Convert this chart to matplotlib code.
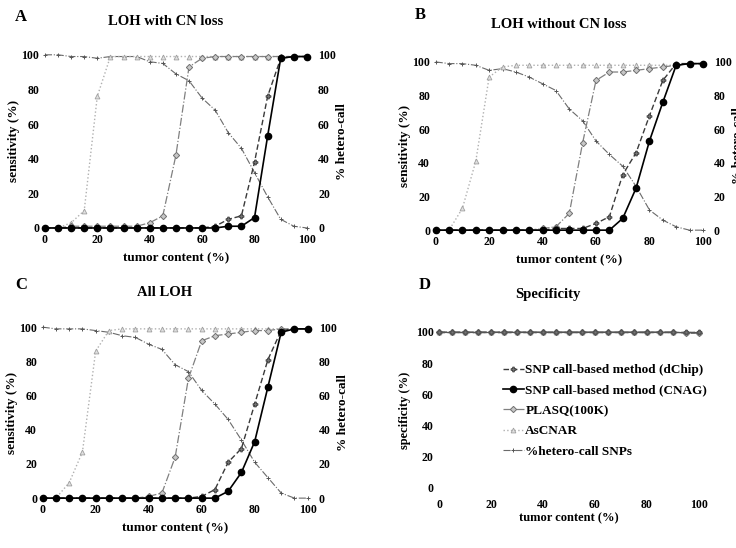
import matplotlib.pyplot as plt
from matplotlib.lines import Line2D
import numpy as np

plt.rcParams['font.family'] = ['Liberation Serif', 'DejaVu Serif']
plt.rcParams['font.weight'] = 'bold'

# tumor content (%) - same grid for every series
tumor = list(range(0, 101, 5))

# Panel A : LOH with CN loss
a_dchip = [0, 0, 0, 0, 0, 0, 0, 0, 0, 0, 0, 0, 0, 1, 5, 7, 38, 76, 98, 99, 99]
a_cnag = [0, 0, 0, 0, 0, 0, 0, 0, 0, 0, 0, 0, 0, 0, 1, 1, 6, 53, 98, 99, 99]
a_plasq = [0, 0, 1, 1, 1, 1, 1, 1, 3, 7, 42, 93, 98, 99, 99, 99, 99, 99, 99, 99, 99]
a_ascnar = [0, 0, 3, 10, 76, 99, 99, 99, 99, 99, 99, 99, 99, 99, 99, 99, 99, 99, 99, 99, 99]
a_hetero = [100, 100, 99, 99, 98, 99, 99, 99, 96, 95, 89, 85, 75, 68, 55, 46, 32, 18, 5, 1, 0]

# Panel B : LOH without CN loss
b_dchip = [0, 0, 0, 0, 0, 0, 0, 0, 0, 1, 1, 1, 4, 8, 33, 46, 68, 89, 99, 99, 99]
b_cnag = [0, 0, 0, 0, 0, 0, 0, 0, 0, 0, 0, 0, 0, 0, 7, 25, 53, 76, 98, 99, 99]
b_plasq = [0, 0, 0, 0, 0, 0, 0, 0, 1, 2, 10, 52, 89, 94, 94, 95, 96, 97, 98, 99, 99]
b_ascnar = [0, 0, 13, 41, 91, 97, 98, 98, 98, 98, 98, 98, 98, 98, 98, 98, 98, 98, 98, 99, 99]
b_hetero = [100, 99, 99, 98, 95, 96, 94, 91, 87, 83, 72, 65, 53, 45, 38, 26, 12, 6, 2, 0, 0]

# Panel C : All LOH
c_dchip = [0, 0, 0, 0, 0, 0, 0, 0, 0, 0, 0, 0, 1, 5, 21, 29, 55, 81, 98, 99, 99]
c_cnag = [0, 0, 0, 0, 0, 0, 0, 0, 0, 0, 0, 0, 0, 0, 4, 15, 33, 65, 97, 99, 99]
c_plasq = [0, 0, 0, 0, 0, 0, 0, 0, 1, 3, 24, 70, 92, 95, 96, 97, 98, 98, 99, 99, 99]
c_ascnar = [0, 0, 9, 27, 86, 98, 99, 99, 99, 99, 99, 99, 99, 99, 99, 99, 99, 99, 99, 99, 99]
c_hetero = [100, 99, 99, 99, 98, 97, 95, 94, 90, 87, 78, 74, 63, 55, 46, 34, 21, 12, 3, 0, 0]

# Panel D : specificity
d_dchip = [100] * 21
d_cnag = [100] * 21
d_plasq = [100, 100, 100, 100, 100, 100, 100, 100, 100, 100, 100, 100, 100, 100, 100, 100, 100, 100, 100, 99, 99]
d_ascnar = [100] * 21

labels = ['SNP call-based method (dChip)', 'SNP call-based method (CNAG)',
          'PLASQ(100K)', 'AsCNAR', '%hetero-call SNPs']

# style of each series
styles = {
    'dchip': dict(color='#3a3a3a', ls=(0, (4, 2)), lw=1.0, marker='P', ms=3.5, mfc='#777777', mec='#3a3a3a', mew=0.6),
    'cnag': dict(color='black', ls='-', lw=1.2, marker='o', ms=4.5, mfc='black', mec='black'),
    'plasq': dict(color='#808080', ls='-.', lw=0.9, marker='D', ms=3.2, mfc='#c8c8c8', mec='#707070', mew=0.7),
    'ascnar': dict(color='#b0b0b0', ls=':', lw=1.0, marker='^', ms=3.5, mfc='#e0e0e0', mec='#a0a0a0', mew=0.6),
    'hetero': dict(color='#6a6a6a', ls='-.', lw=0.8, marker='+', ms=3.5, mec='#555555', mew=0.7),
}

fig = plt.figure(figsize=(7.36, 5.48), dpi=100)


def style_axis(ax):
    for s in ax.spines.values():
        s.set_visible(False)
    ax.tick_params(length=0, labelsize=8.5, pad=4)
    for lab in ax.get_xticklabels() + ax.get_yticklabels():
        lab.set_fontweight('bold')


def sensitivity_panel(rect, letter, letter_xy, title, title_y, dchip, cnag, plasq, ascnar, hetero):
    ax = fig.add_axes(rect)
    ax2 = ax.twinx()
    ax2.plot(tumor, hetero, clip_on=False, **styles['hetero'])
    ax.plot(tumor, ascnar, clip_on=False, zorder=3, **styles['ascnar'])
    ax.plot(tumor, plasq, clip_on=False, zorder=4, **styles['plasq'])
    ax.plot(tumor, dchip, clip_on=False, zorder=5, **styles['dchip'])
    ax.plot(tumor, cnag, clip_on=False, zorder=6, **styles['cnag'])
    ax.set_zorder(ax2.get_zorder() + 1)
    ax.patch.set_visible(False)
    for a in (ax, ax2):
        a.set_xlim(0, 100)
        a.set_ylim(0, 100)
        a.set_yticks(range(0, 101, 20))
        style_axis(a)
    ax.set_xticks(range(0, 101, 20))
    ax2.tick_params(pad=8)
    ax.set_xlabel('tumor content (%)', fontsize=9.5, fontweight='bold', labelpad=5)
    ax.set_ylabel('sensitivity (%)', fontsize=9.5, fontweight='bold', labelpad=1)
    ax2.set_ylabel('% hetero-call', fontsize=9.5, fontweight='bold', labelpad=0)
    ax.text(0.46, title_y, title, transform=ax.transAxes, ha='center', va='center',
            fontsize=10.5, fontweight='bold')
    ax.text(letter_xy[0], letter_xy[1], letter, transform=ax.transAxes, ha='center', va='center',
            fontsize=12, fontweight='bold')
    return ax


sensitivity_panel([0.061, 0.584, 0.356, 0.316], 'A', (-0.092, 1.22), 'LOH with CN loss', 1.19,
                  a_dchip, a_cnag, a_plasq, a_ascnar, a_hetero)
sensitivity_panel([0.592, 0.580, 0.363, 0.307], 'B', (-0.056, 1.28), 'LOH without CN loss', 1.22,
                  b_dchip, b_cnag, b_plasq, b_ascnar, b_hetero)
sensitivity_panel([0.058, 0.091, 0.360, 0.312], 'C', (-0.083, 1.245), 'All LOH', 1.20,
                  c_dchip, c_cnag, c_plasq, c_ascnar, c_hetero)

# Panel D
axd = fig.add_axes([0.5965, 0.1095, 0.353, 0.285])
axd.plot(tumor, d_ascnar, clip_on=False, **styles['ascnar'])
axd.plot(tumor, d_plasq, clip_on=False, **styles['plasq'])
axd.plot(tumor, d_dchip, clip_on=False, **styles['dchip'])
axd.plot(tumor, d_cnag, clip_on=False, lw=0.8, color='#555555', marker='o', ms=2.5,
         mfc='#777777', mec='#555555', ls='-')
axd.set_xlim(0, 100)
axd.set_ylim(0, 100)
axd.set_xticks(range(0, 101, 20))
axd.set_yticks(range(0, 101, 20))
style_axis(axd)
axd.tick_params(axis='x', pad=8)
axd.set_xlabel('tumor content (%)', fontsize=9, fontweight='bold', labelpad=1)
axd.set_ylabel('specificity (%)', fontsize=9, fontweight='bold', labelpad=3)
axd.text(0.42, 1.24, 'Specificity', transform=axd.transAxes, ha='center', va='center',
         fontsize=10.5, fontweight='bold')
axd.text(-0.054, 1.30, 'D', transform=axd.transAxes, ha='center', va='center',
         fontsize=12, fontweight='bold')

handles = [Line2D([], [], **styles[k]) for k in ('dchip', 'cnag', 'plasq', 'ascnar', 'hetero')]
axd.legend(handles, labels, loc='upper left', bbox_to_anchor=(0.2, 0.87), frameon=False,
           handlelength=1.6, handletextpad=0.1, labelspacing=0.62,
           prop={'family': 'Liberation Serif', 'weight': 'bold', 'size': 9.5})

fig.savefig('out.png', dpi=100)
